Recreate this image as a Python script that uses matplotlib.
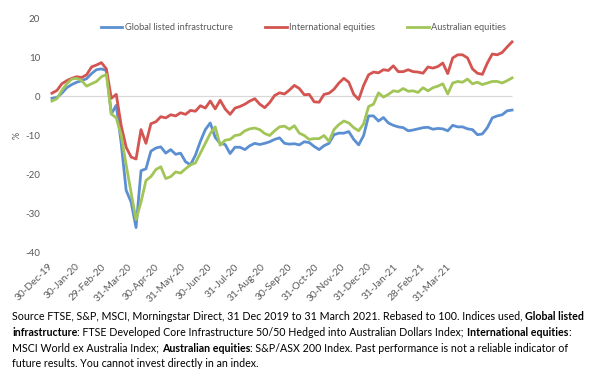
import matplotlib
matplotlib.use('Agg')
import matplotlib.pyplot as plt
import numpy as np

plt.rcParams['font.family'] = ['Lato', 'DejaVu Sans']

# -------------------------- data (% change, one value every few trading days) --------------------------
series_names = ['Global listed infrastructure', 'International equities', 'Australian equities']

infrastructure = [
    -0.5, -0.3, 0.8, 2.2, 3.0, 3.6, 4.0, 4.5, 5.8, 6.8,
    7.0, 6.6, -4.5, -2.3, -12.0, -24.0, -27.0, -33.5, -19.0, -18.5,
    -14.0, -13.2, -12.9, -14.5, -13.6, -14.8, -14.5, -16.7, -17.5, -15.0,
    -11.5, -8.5, -6.8, -10.5, -12.0, -12.3, -14.6, -13.0, -13.0, -13.6,
    -12.6, -12.0, -12.3, -12.0, -11.6, -11.0, -10.6, -12.0, -12.2, -12.1,
    -12.4, -11.6, -11.8, -12.8, -13.6, -12.6, -12.0, -9.8, -9.4, -9.4,
    -9.0, -11.0, -12.4, -10.0, -5.0, -5.0, -6.3, -5.4, -6.8, -7.4,
    -7.8, -8.0, -8.8, -8.6, -8.3, -8.0, -7.9, -8.4, -8.2, -8.3,
    -8.8, -7.4, -7.8, -7.8, -8.3, -8.5, -9.8, -9.6, -8.0, -5.5,
    -5.0, -4.7, -3.7, -3.5]

international = [
    0.8, 1.5, 3.2, 4.0, 4.6, 5.0, 4.8, 5.5, 7.5, 8.0,
    8.6, 7.0, -0.5, 0.5, -7.5, -13.0, -15.5, -16.0, -8.5, -12.0,
    -7.0, -6.5, -5.2, -5.5, -4.7, -5.0, -4.2, -4.6, -3.6, -3.8,
    -2.4, -3.0, -1.2, -3.2, -1.0, -3.2, -4.6, -3.0, -2.6, -2.0,
    -1.2, -0.6, -2.0, -2.9, -1.6, 0.2, 0.9, 0.6, 1.6, 2.8,
    2.0, 0.4, 0.5, -1.4, -1.5, 0.5, 0.8, 1.8, 3.4, 4.6,
    3.6, 0.5, -0.8, 2.8, 5.5, 6.2, 6.0, 6.8, 6.6, 7.8,
    6.3, 6.3, 6.8, 6.3, 6.2, 5.9, 7.5, 7.2, 7.6, 8.5,
    5.8, 9.8, 10.6, 10.6, 9.8, 7.0, 5.9, 5.6, 8.5, 10.8,
    10.6, 11.2, 12.6, 13.9]

australian = [
    -1.2, -0.6, 1.5, 3.2, 4.4, 4.6, 4.0, 2.6, 3.2, 3.8,
    5.0, 5.6, -4.5, -5.5, -10.0, -17.5, -24.6, -31.5, -27.0, -21.5,
    -20.5, -18.7, -18.0, -21.0, -20.5, -19.3, -19.6, -18.5, -17.5, -17.0,
    -14.5, -12.0, -9.5, -7.8, -12.5, -11.2, -11.0, -10.0, -9.8, -8.8,
    -8.3, -8.1, -8.5, -9.5, -10.0, -8.8, -7.8, -7.6, -8.4, -7.5,
    -9.4, -10.0, -11.0, -10.8, -10.8, -10.0, -11.5, -8.5, -7.2, -6.3,
    -6.8, -8.0, -8.8, -7.0, -2.6, -2.0, 0.9, -0.2, 0.5, 1.4,
    1.2, 2.0, 1.3, 1.4, 1.0, 2.2, 1.4, 2.2, 2.6, 3.2,
    0.6, 3.4, 3.8, 3.6, 4.4, 3.2, 3.6, 3.0, 3.4, 3.8,
    3.8, 3.4, 4.0, 4.7]

date_labels = ['30-Dec-19', '30-Jan-20', '29-Feb-20', '31-Mar-20', '30-Apr-20', '31-May-20',
               '30-Jun-20', '31-Jul-20', '31-Aug-20', '30-Sep-20', '31-Oct-20', '30-Nov-20',
               '31-Dec-20', '31-Jan-21', '28-Feb-21', '31-Mar-21']
y_ticks = [20, 10, 0, -10, -20, -30, -40]

colors = ['#5B8FD1', '#D35450', '#A2C557']
grey = '#595959'

# -------------------------- drawing --------------------------
fig = plt.figure(figsize=(6.01, 3.84), dpi=100)
ax = fig.add_axes([47 / 601, 1 - 253 / 384, 471 / 601, 235 / 384])

x = np.arange(len(infrastructure))
for vals, name, c in zip([infrastructure, international, australian], series_names, colors):
    ax.plot(x, vals, color=c, linewidth=2.0, label=name, solid_joinstyle='round', zorder=3)

ax.hlines(0, x[0], x[-1], color='#D9D9D9', linewidth=0.9, zorder=1)

ax.set_xlim(-1, len(x) + 0.2)
ax.set_ylim(-40, 20)
for s in ax.spines.values():
    s.set_visible(False)

# category axis labels are spaced a little tighter than the data (Excel label interval)
label_step = 5.374
ax.set_xticks(-0.8 + label_step * np.arange(len(date_labels)))
ax.set_xticklabels(date_labels, rotation=45, ha='right', rotation_mode='anchor',
                   fontsize=7.3, color=grey)
ax.tick_params(axis='x', length=0, pad=6.5)
ax.set_yticks(y_ticks)
ax.set_yticklabels([str(v) for v in y_ticks], fontsize=7, color=grey)
ax.tick_params(axis='y', length=0, pad=5)

fig.text(17 / 601, 1 - 135 / 384, '%', rotation=90, ha='center', va='center', fontsize=6.5, color=grey)

fig.legend(loc='center', bbox_to_anchor=(0.505, 0.928), ncol=3, frameon=False, fontsize=6.7,
           handlelength=2.3, handletextpad=0.25, columnspacing=3.5, labelcolor=grey)

# -------------------------- source note with bold pieces --------------------------
note = [
    [("Source FTSE, S&P, MSCI, Morningstar Direct, 31 Dec 2019 to 31 March 2021. Rebased to 100. Indices used, ", False),
     ("Global listed", True)],
    [("infrastructure", True),
     (": FTSE Developed Core Infrastructure 50/50 Hedged into Australian Dollars Index; ", False),
     ("International equities", True), (":", False)],
    [("MSCI World ex Australia Index; ", False), ("Australian equities", True),
     (": S&P/ASX 200 Index. Past performance is not a reliable indicator of", False)],
    [("future results. You cannot invest directly in an index.", False)],
]
renderer = fig.canvas.get_renderer()
note_size = 7.7


def text_width(s, weight):
    t = fig.text(0, 0, s + '|', fontsize=note_size, fontweight=weight)
    bar = fig.text(0, 0, '|', fontsize=note_size, fontweight=weight)
    w = t.get_window_extent(renderer).width - bar.get_window_extent(renderer).width
    t.remove()
    bar.remove()
    return w


for i, line in enumerate(note):
    xp = 12
    yp = 317 + 15.5 * i
    for s, bold in line:
        weight = 'bold' if bold else 'normal'
        fig.text(xp / 601, 1 - yp / 384, s, fontsize=note_size, fontweight=weight,
                 va='center', ha='left', color='black')
        xp += text_width(s, weight)

fig.savefig('out.png', dpi=100)
